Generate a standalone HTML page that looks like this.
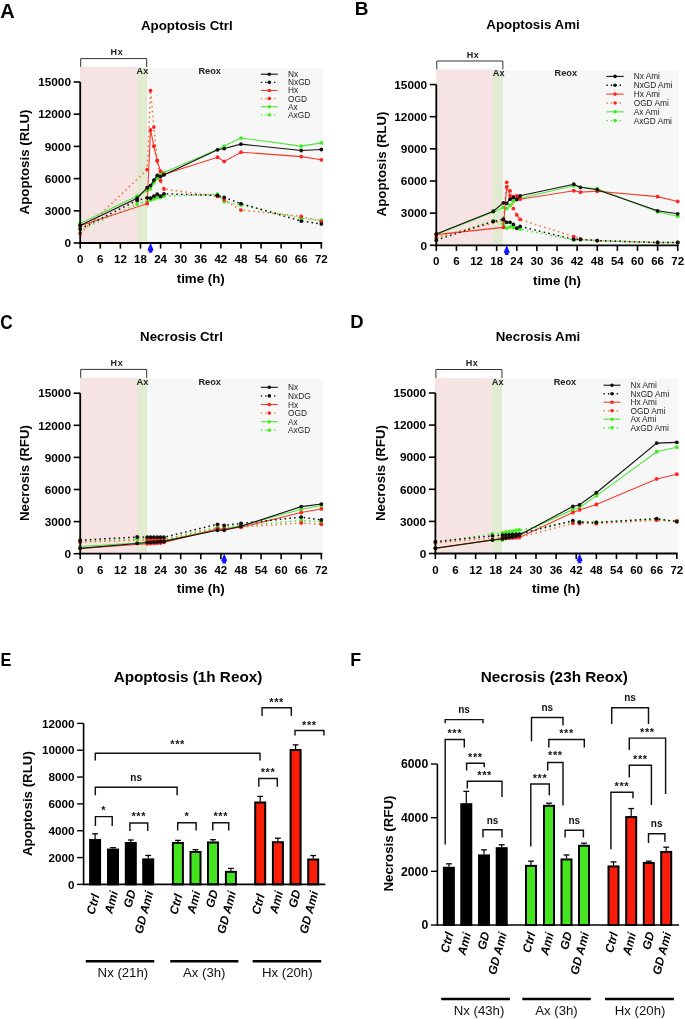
<!DOCTYPE html>
<html><head><meta charset="utf-8"><style>
html,body{margin:0;padding:0;background:#fff;}
svg{display:block;will-change:transform;font-family:"Liberation Sans", sans-serif;}
</style></head><body>
<svg width="685" height="1019" viewBox="0 0 685 1019">
<rect x="0" y="0" width="685" height="1019" fill="#fff"/>
<rect x="80.00" y="66.90" width="57.00" height="176.10" fill="#f6e3e4" />
<rect x="137.00" y="67.50" width="10.00" height="175.50" fill="#e3ead2" />
<rect x="147.00" y="67.90" width="176.00" height="175.10" fill="#f7f7f7" />
<path d="M80.70 66.90 V58.60 H146.68 V66.90" fill="none" stroke="#333" stroke-width="1"/>
<text x="116.90" y="55.30" font-size="9" font-weight="bold" text-anchor="middle" fill="#222" letter-spacing="0.6">Hx</text>
<text x="142.46" y="73.70" font-size="9.2" font-weight="bold" text-anchor="middle" fill="#222" >Ax</text>
<text x="209.70" y="73.70" font-size="9.2" font-weight="bold" text-anchor="middle" fill="#222" >Reox</text>
<path d="M80.20 230.12 L137.13 204.04 L147.18 201.78 L150.53 200.07 L153.88 198.99 L157.23 197.38 L160.58 197.38 L163.93 196.31 L217.51 194.06 L224.21 201.68 L240.95 205.00 L301.23 218.31 L321.33 220.14" fill="none" stroke="#4ee63a" stroke-width="1.5" stroke-dasharray="1.6 3.2"/>
<circle cx="80.20" cy="230.12" r="1.9" fill="#3cf01a"/>
<circle cx="137.13" cy="204.04" r="1.9" fill="#3cf01a"/>
<circle cx="147.18" cy="201.78" r="1.9" fill="#3cf01a"/>
<circle cx="150.53" cy="200.07" r="1.9" fill="#3cf01a"/>
<circle cx="153.88" cy="198.99" r="1.9" fill="#3cf01a"/>
<circle cx="157.23" cy="197.38" r="1.9" fill="#3cf01a"/>
<circle cx="160.58" cy="197.38" r="1.9" fill="#3cf01a"/>
<circle cx="163.93" cy="196.31" r="1.9" fill="#3cf01a"/>
<circle cx="217.51" cy="194.06" r="1.9" fill="#3cf01a"/>
<circle cx="224.21" cy="201.68" r="1.9" fill="#3cf01a"/>
<circle cx="240.95" cy="205.00" r="1.9" fill="#3cf01a"/>
<circle cx="301.23" cy="218.31" r="1.9" fill="#3cf01a"/>
<circle cx="321.33" cy="220.14" r="1.9" fill="#3cf01a"/>
<path d="M80.20 223.40 L137.13 195.99 L147.18 190.41 L150.53 188.80 L153.88 182.89 L157.23 178.49 L160.58 174.20 L163.93 172.59 L217.51 149.62 L224.21 146.08 L240.95 138.03 L301.23 146.08 L321.33 142.86" fill="none" stroke="#4ee63a" stroke-width="1.1"/>
<circle cx="80.20" cy="223.40" r="1.9" fill="#3cf01a"/>
<circle cx="137.13" cy="195.99" r="1.9" fill="#3cf01a"/>
<circle cx="147.18" cy="190.41" r="1.9" fill="#3cf01a"/>
<circle cx="150.53" cy="188.80" r="1.9" fill="#3cf01a"/>
<circle cx="153.88" cy="182.89" r="1.9" fill="#3cf01a"/>
<circle cx="157.23" cy="178.49" r="1.9" fill="#3cf01a"/>
<circle cx="160.58" cy="174.20" r="1.9" fill="#3cf01a"/>
<circle cx="163.93" cy="172.59" r="1.9" fill="#3cf01a"/>
<circle cx="217.51" cy="149.62" r="1.9" fill="#3cf01a"/>
<circle cx="224.21" cy="146.08" r="1.9" fill="#3cf01a"/>
<circle cx="240.95" cy="138.03" r="1.9" fill="#3cf01a"/>
<circle cx="301.23" cy="146.08" r="1.9" fill="#3cf01a"/>
<circle cx="321.33" cy="142.86" r="1.9" fill="#3cf01a"/>
<path d="M80.20 233.50 L147.18 169.58 L150.53 90.59 L153.88 127.08 L157.23 160.35 L160.58 180.75 L163.93 189.01 L217.51 196.42 L224.21 199.85 L240.95 210.10 L301.23 216.38 L321.33 221.53" fill="none" stroke="#f07830" stroke-width="1.5" stroke-dasharray="1.6 3.2"/>
<circle cx="80.20" cy="233.50" r="1.9" fill="#ff2222"/>
<circle cx="147.18" cy="169.58" r="1.9" fill="#ff2222"/>
<circle cx="150.53" cy="90.59" r="1.9" fill="#ff2222"/>
<circle cx="153.88" cy="127.08" r="1.9" fill="#ff2222"/>
<circle cx="157.23" cy="160.35" r="1.9" fill="#ff2222"/>
<circle cx="160.58" cy="180.75" r="1.9" fill="#ff2222"/>
<circle cx="163.93" cy="189.01" r="1.9" fill="#ff2222"/>
<circle cx="217.51" cy="196.42" r="1.9" fill="#ff2222"/>
<circle cx="224.21" cy="199.85" r="1.9" fill="#ff2222"/>
<circle cx="240.95" cy="210.10" r="1.9" fill="#ff2222"/>
<circle cx="301.23" cy="216.38" r="1.9" fill="#ff2222"/>
<circle cx="321.33" cy="221.53" r="1.9" fill="#ff2222"/>
<path d="M80.20 225.83 L147.18 203.72 L150.53 129.98 L153.88 146.19 L157.23 161.10 L160.58 171.19 L163.93 174.31 L217.51 157.24 L224.21 161.43 L240.95 152.20 L301.23 156.60 L321.33 159.82" fill="none" stroke="#f43a2a" stroke-width="1.1"/>
<circle cx="80.20" cy="225.83" r="1.9" fill="#ff2222"/>
<circle cx="147.18" cy="203.72" r="1.9" fill="#ff2222"/>
<circle cx="150.53" cy="129.98" r="1.9" fill="#ff2222"/>
<circle cx="153.88" cy="146.19" r="1.9" fill="#ff2222"/>
<circle cx="157.23" cy="161.10" r="1.9" fill="#ff2222"/>
<circle cx="160.58" cy="171.19" r="1.9" fill="#ff2222"/>
<circle cx="163.93" cy="174.31" r="1.9" fill="#ff2222"/>
<circle cx="217.51" cy="157.24" r="1.9" fill="#ff2222"/>
<circle cx="224.21" cy="161.43" r="1.9" fill="#ff2222"/>
<circle cx="240.95" cy="152.20" r="1.9" fill="#ff2222"/>
<circle cx="301.23" cy="156.60" r="1.9" fill="#ff2222"/>
<circle cx="321.33" cy="159.82" r="1.9" fill="#ff2222"/>
<path d="M80.20 228.83 L137.13 200.39 L147.18 197.81 L150.53 198.24 L153.88 196.20 L157.23 194.16 L160.58 196.20 L163.93 193.84 L217.51 195.45 L224.21 197.38 L240.95 203.61 L301.23 221.10 L321.33 223.89" fill="none" stroke="#111" stroke-width="1.5" stroke-dasharray="1.6 3.2"/>
<circle cx="80.20" cy="228.83" r="1.9" fill="#111"/>
<circle cx="137.13" cy="200.39" r="1.9" fill="#111"/>
<circle cx="147.18" cy="197.81" r="1.9" fill="#111"/>
<circle cx="150.53" cy="198.24" r="1.9" fill="#111"/>
<circle cx="153.88" cy="196.20" r="1.9" fill="#111"/>
<circle cx="157.23" cy="194.16" r="1.9" fill="#111"/>
<circle cx="160.58" cy="196.20" r="1.9" fill="#111"/>
<circle cx="163.93" cy="193.84" r="1.9" fill="#111"/>
<circle cx="217.51" cy="195.45" r="1.9" fill="#111"/>
<circle cx="224.21" cy="197.38" r="1.9" fill="#111"/>
<circle cx="240.95" cy="203.61" r="1.9" fill="#111"/>
<circle cx="301.23" cy="221.10" r="1.9" fill="#111"/>
<circle cx="321.33" cy="223.89" r="1.9" fill="#111"/>
<path d="M80.20 225.50 L137.13 198.24 L147.18 187.72 L150.53 185.58 L153.88 180.10 L157.23 175.38 L160.58 176.56 L163.93 174.95 L217.51 149.83 L224.21 148.55 L240.95 144.15 L301.23 150.48 L321.33 149.51" fill="none" stroke="#111" stroke-width="1.1"/>
<circle cx="80.20" cy="225.50" r="1.9" fill="#111"/>
<circle cx="137.13" cy="198.24" r="1.9" fill="#111"/>
<circle cx="147.18" cy="187.72" r="1.9" fill="#111"/>
<circle cx="150.53" cy="185.58" r="1.9" fill="#111"/>
<circle cx="153.88" cy="180.10" r="1.9" fill="#111"/>
<circle cx="157.23" cy="175.38" r="1.9" fill="#111"/>
<circle cx="160.58" cy="176.56" r="1.9" fill="#111"/>
<circle cx="163.93" cy="174.95" r="1.9" fill="#111"/>
<circle cx="217.51" cy="149.83" r="1.9" fill="#111"/>
<circle cx="224.21" cy="148.55" r="1.9" fill="#111"/>
<circle cx="240.95" cy="144.15" r="1.9" fill="#111"/>
<circle cx="301.23" cy="150.48" r="1.9" fill="#111"/>
<circle cx="321.33" cy="149.51" r="1.9" fill="#111"/>
<line x1="80.20" y1="82.00" x2="80.20" y2="243.90" stroke="#000" stroke-width="1.8" />
<line x1="79.30" y1="243.00" x2="322.23" y2="243.00" stroke="#000" stroke-width="1.8" />
<line x1="73.70" y1="243.00" x2="80.20" y2="243.00" stroke="#000" stroke-width="1.6" />
<text x="71.00" y="247.20" font-size="11.8" font-weight="bold" text-anchor="end" fill="#000" >0</text>
<line x1="73.70" y1="210.80" x2="80.20" y2="210.80" stroke="#000" stroke-width="1.6" />
<text x="71.00" y="215.00" font-size="11.8" font-weight="bold" text-anchor="end" fill="#000" >3000</text>
<line x1="73.70" y1="178.60" x2="80.20" y2="178.60" stroke="#000" stroke-width="1.6" />
<text x="71.00" y="182.80" font-size="11.8" font-weight="bold" text-anchor="end" fill="#000" >6000</text>
<line x1="73.70" y1="146.40" x2="80.20" y2="146.40" stroke="#000" stroke-width="1.6" />
<text x="71.00" y="150.60" font-size="11.8" font-weight="bold" text-anchor="end" fill="#000" >9000</text>
<line x1="73.70" y1="114.20" x2="80.20" y2="114.20" stroke="#000" stroke-width="1.6" />
<text x="71.00" y="118.40" font-size="11.8" font-weight="bold" text-anchor="end" fill="#000" >12000</text>
<line x1="73.70" y1="82.00" x2="80.20" y2="82.00" stroke="#000" stroke-width="1.6" />
<text x="71.00" y="86.20" font-size="11.8" font-weight="bold" text-anchor="end" fill="#000" >15000</text>
<line x1="80.20" y1="243.00" x2="80.20" y2="248.60" stroke="#000" stroke-width="1.6" />
<text x="80.20" y="263.10" font-size="11.5" font-weight="bold" text-anchor="middle" fill="#000" >0</text>
<line x1="100.29" y1="243.00" x2="100.29" y2="248.60" stroke="#000" stroke-width="1.6" />
<text x="100.29" y="263.10" font-size="11.5" font-weight="bold" text-anchor="middle" fill="#000" >6</text>
<line x1="120.39" y1="243.00" x2="120.39" y2="248.60" stroke="#000" stroke-width="1.6" />
<text x="120.39" y="263.10" font-size="11.5" font-weight="bold" text-anchor="middle" fill="#000" >12</text>
<line x1="140.48" y1="243.00" x2="140.48" y2="248.60" stroke="#000" stroke-width="1.6" />
<text x="140.48" y="263.10" font-size="11.5" font-weight="bold" text-anchor="middle" fill="#000" >18</text>
<line x1="160.58" y1="243.00" x2="160.58" y2="248.60" stroke="#000" stroke-width="1.6" />
<text x="160.58" y="263.10" font-size="11.5" font-weight="bold" text-anchor="middle" fill="#000" >24</text>
<line x1="180.67" y1="243.00" x2="180.67" y2="248.60" stroke="#000" stroke-width="1.6" />
<text x="180.67" y="263.10" font-size="11.5" font-weight="bold" text-anchor="middle" fill="#000" >30</text>
<line x1="200.76" y1="243.00" x2="200.76" y2="248.60" stroke="#000" stroke-width="1.6" />
<text x="200.76" y="263.10" font-size="11.5" font-weight="bold" text-anchor="middle" fill="#000" >36</text>
<line x1="220.86" y1="243.00" x2="220.86" y2="248.60" stroke="#000" stroke-width="1.6" />
<text x="220.86" y="263.10" font-size="11.5" font-weight="bold" text-anchor="middle" fill="#000" >42</text>
<line x1="240.95" y1="243.00" x2="240.95" y2="248.60" stroke="#000" stroke-width="1.6" />
<text x="240.95" y="263.10" font-size="11.5" font-weight="bold" text-anchor="middle" fill="#000" >48</text>
<line x1="261.05" y1="243.00" x2="261.05" y2="248.60" stroke="#000" stroke-width="1.6" />
<text x="261.05" y="263.10" font-size="11.5" font-weight="bold" text-anchor="middle" fill="#000" >54</text>
<line x1="281.14" y1="243.00" x2="281.14" y2="248.60" stroke="#000" stroke-width="1.6" />
<text x="281.14" y="263.10" font-size="11.5" font-weight="bold" text-anchor="middle" fill="#000" >60</text>
<line x1="301.23" y1="243.00" x2="301.23" y2="248.60" stroke="#000" stroke-width="1.6" />
<text x="301.23" y="263.10" font-size="11.5" font-weight="bold" text-anchor="middle" fill="#000" >66</text>
<line x1="321.33" y1="243.00" x2="321.33" y2="248.60" stroke="#000" stroke-width="1.6" />
<text x="321.33" y="263.10" font-size="11.5" font-weight="bold" text-anchor="middle" fill="#000" >72</text>
<path d="M150.53 242.80 L153.63 250.20 L152.33 250.80 L152.33 252.80 L148.73 252.80 L148.73 250.80 L147.43 250.20 Z" fill="#1414ff"/>
<text x="200.76" y="282.60" font-size="13.3" font-weight="bold" text-anchor="middle" fill="#000" >time (h)</text>
<text transform="translate(29.20,162.00) rotate(-90)" font-size="13.3" font-weight="bold" text-anchor="middle">Apoptosis (RLU)</text>
<text x="186.80" y="29.60" font-size="13.3" font-weight="bold" text-anchor="middle" fill="#000" >Apoptosis Ctrl</text>
<line x1="260.80" y1="74.20" x2="277.80" y2="74.20" stroke="#111" stroke-width="1.1" />
<circle cx="269.30" cy="74.20" r="1.8" fill="#111"/>
<text x="288.00" y="77.20" font-size="8.3" font-weight="normal" text-anchor="start" fill="#222" >Nx</text>
<path d="M260.80 82.34 H277.80" stroke="#111" stroke-width="1.4" stroke-dasharray="1.4 3" fill="none"/>
<circle cx="269.30" cy="82.34" r="1.8" fill="#111"/>
<text x="288.00" y="85.34" font-size="8.3" font-weight="normal" text-anchor="start" fill="#222" >NxGD</text>
<line x1="260.80" y1="90.48" x2="277.80" y2="90.48" stroke="#f43a2a" stroke-width="1.1" />
<circle cx="269.30" cy="90.48" r="1.8" fill="#ff2222"/>
<text x="288.00" y="93.48" font-size="8.3" font-weight="normal" text-anchor="start" fill="#222" >Hx</text>
<path d="M260.80 98.62 H277.80" stroke="#f07830" stroke-width="1.4" stroke-dasharray="1.4 3" fill="none"/>
<circle cx="269.30" cy="98.62" r="1.8" fill="#ff2222"/>
<text x="288.00" y="101.62" font-size="8.3" font-weight="normal" text-anchor="start" fill="#222" >OGD</text>
<line x1="260.80" y1="106.76" x2="277.80" y2="106.76" stroke="#4ee63a" stroke-width="1.1" />
<circle cx="269.30" cy="106.76" r="1.8" fill="#3cf01a"/>
<text x="288.00" y="109.76" font-size="8.3" font-weight="normal" text-anchor="start" fill="#222" >Ax</text>
<path d="M260.80 114.90 H277.80" stroke="#4ee63a" stroke-width="1.4" stroke-dasharray="1.4 3" fill="none"/>
<circle cx="269.30" cy="114.90" r="1.8" fill="#3cf01a"/>
<text x="288.00" y="117.90" font-size="8.3" font-weight="normal" text-anchor="start" fill="#222" >AxGD</text>
<text transform="translate(0.20,18.00) scale(1,1)" font-size="20" font-weight="bold">A</text>
<rect x="436.00" y="69.40" width="57.00" height="175.90" fill="#f6e3e4" />
<rect x="493.00" y="70.00" width="10.00" height="175.30" fill="#e3ead2" />
<rect x="503.00" y="70.40" width="176.00" height="174.90" fill="#f7f7f7" />
<path d="M436.80 69.40 V61.00 H502.86 V69.40" fill="none" stroke="#333" stroke-width="1"/>
<text x="473.00" y="57.70" font-size="9" font-weight="bold" text-anchor="middle" fill="#222" letter-spacing="0.6">Hx</text>
<text x="498.63" y="76.20" font-size="9.2" font-weight="bold" text-anchor="middle" fill="#222" >Ax</text>
<text x="565.80" y="76.20" font-size="9.2" font-weight="bold" text-anchor="middle" fill="#222" >Reox</text>
<path d="M436.30 238.33 L493.30 220.87 L503.36 224.30 L506.71 228.05 L510.07 226.97 L513.42 227.62 L516.77 227.62 L520.12 229.12 L573.77 239.94 L580.48 239.73 L597.24 240.69 L657.60 242.62 L677.72 242.62" fill="none" stroke="#4ee63a" stroke-width="1.5" stroke-dasharray="1.6 3.2"/>
<circle cx="436.30" cy="238.33" r="1.9" fill="#3cf01a"/>
<circle cx="493.30" cy="220.87" r="1.9" fill="#3cf01a"/>
<circle cx="503.36" cy="224.30" r="1.9" fill="#3cf01a"/>
<circle cx="506.71" cy="228.05" r="1.9" fill="#3cf01a"/>
<circle cx="510.07" cy="226.97" r="1.9" fill="#3cf01a"/>
<circle cx="513.42" cy="227.62" r="1.9" fill="#3cf01a"/>
<circle cx="516.77" cy="227.62" r="1.9" fill="#3cf01a"/>
<circle cx="520.12" cy="229.12" r="1.9" fill="#3cf01a"/>
<circle cx="573.77" cy="239.94" r="1.9" fill="#3cf01a"/>
<circle cx="580.48" cy="239.73" r="1.9" fill="#3cf01a"/>
<circle cx="597.24" cy="240.69" r="1.9" fill="#3cf01a"/>
<circle cx="657.60" cy="242.62" r="1.9" fill="#3cf01a"/>
<circle cx="677.72" cy="242.62" r="1.9" fill="#3cf01a"/>
<path d="M436.30 234.58 L493.30 212.08 L503.36 207.47 L506.71 208.54 L510.07 205.43 L513.42 201.36 L516.77 199.75 L520.12 198.15 L573.77 185.82 L580.48 187.32 L597.24 188.72 L657.60 211.76 L677.72 216.26" fill="none" stroke="#4ee63a" stroke-width="1.1"/>
<circle cx="436.30" cy="234.58" r="1.9" fill="#3cf01a"/>
<circle cx="493.30" cy="212.08" r="1.9" fill="#3cf01a"/>
<circle cx="503.36" cy="207.47" r="1.9" fill="#3cf01a"/>
<circle cx="506.71" cy="208.54" r="1.9" fill="#3cf01a"/>
<circle cx="510.07" cy="205.43" r="1.9" fill="#3cf01a"/>
<circle cx="513.42" cy="201.36" r="1.9" fill="#3cf01a"/>
<circle cx="516.77" cy="199.75" r="1.9" fill="#3cf01a"/>
<circle cx="520.12" cy="198.15" r="1.9" fill="#3cf01a"/>
<circle cx="573.77" cy="185.82" r="1.9" fill="#3cf01a"/>
<circle cx="580.48" cy="187.32" r="1.9" fill="#3cf01a"/>
<circle cx="597.24" cy="188.72" r="1.9" fill="#3cf01a"/>
<circle cx="657.60" cy="211.76" r="1.9" fill="#3cf01a"/>
<circle cx="677.72" cy="216.26" r="1.9" fill="#3cf01a"/>
<path d="M436.30 237.26 L503.36 220.65 L506.71 182.29 L510.07 190.97 L513.42 208.54 L516.77 214.97 L520.12 219.47 L573.77 236.62 L580.48 238.98 L597.24 240.58 L657.60 242.51 L677.72 242.51" fill="none" stroke="#f07830" stroke-width="1.5" stroke-dasharray="1.6 3.2"/>
<circle cx="436.30" cy="237.26" r="1.9" fill="#ff2222"/>
<circle cx="503.36" cy="220.65" r="1.9" fill="#ff2222"/>
<circle cx="506.71" cy="182.29" r="1.9" fill="#ff2222"/>
<circle cx="510.07" cy="190.97" r="1.9" fill="#ff2222"/>
<circle cx="513.42" cy="208.54" r="1.9" fill="#ff2222"/>
<circle cx="516.77" cy="214.97" r="1.9" fill="#ff2222"/>
<circle cx="520.12" cy="219.47" r="1.9" fill="#ff2222"/>
<circle cx="573.77" cy="236.62" r="1.9" fill="#ff2222"/>
<circle cx="580.48" cy="238.98" r="1.9" fill="#ff2222"/>
<circle cx="597.24" cy="240.58" r="1.9" fill="#ff2222"/>
<circle cx="657.60" cy="242.51" r="1.9" fill="#ff2222"/>
<circle cx="677.72" cy="242.51" r="1.9" fill="#ff2222"/>
<path d="M436.30 234.58 L503.36 227.40 L506.71 186.79 L510.07 195.79 L513.42 196.54 L516.77 196.00 L520.12 199.22 L573.77 190.75 L580.48 192.15 L597.24 191.29 L657.60 196.65 L677.72 201.47" fill="none" stroke="#f43a2a" stroke-width="1.1"/>
<circle cx="436.30" cy="234.58" r="1.9" fill="#ff2222"/>
<circle cx="503.36" cy="227.40" r="1.9" fill="#ff2222"/>
<circle cx="506.71" cy="186.79" r="1.9" fill="#ff2222"/>
<circle cx="510.07" cy="195.79" r="1.9" fill="#ff2222"/>
<circle cx="513.42" cy="196.54" r="1.9" fill="#ff2222"/>
<circle cx="516.77" cy="196.00" r="1.9" fill="#ff2222"/>
<circle cx="520.12" cy="199.22" r="1.9" fill="#ff2222"/>
<circle cx="573.77" cy="190.75" r="1.9" fill="#ff2222"/>
<circle cx="580.48" cy="192.15" r="1.9" fill="#ff2222"/>
<circle cx="597.24" cy="191.29" r="1.9" fill="#ff2222"/>
<circle cx="657.60" cy="196.65" r="1.9" fill="#ff2222"/>
<circle cx="677.72" cy="201.47" r="1.9" fill="#ff2222"/>
<path d="M436.30 240.16 L493.30 221.40 L503.36 219.26 L506.71 222.37 L510.07 222.37 L513.42 224.40 L516.77 228.26 L520.12 226.44 L573.77 239.41 L580.48 239.41 L597.24 240.58 L657.60 242.51 L677.72 242.51" fill="none" stroke="#111" stroke-width="1.5" stroke-dasharray="1.6 3.2"/>
<circle cx="436.30" cy="240.16" r="1.9" fill="#111"/>
<circle cx="493.30" cy="221.40" r="1.9" fill="#111"/>
<circle cx="503.36" cy="219.26" r="1.9" fill="#111"/>
<circle cx="506.71" cy="222.37" r="1.9" fill="#111"/>
<circle cx="510.07" cy="222.37" r="1.9" fill="#111"/>
<circle cx="513.42" cy="224.40" r="1.9" fill="#111"/>
<circle cx="516.77" cy="228.26" r="1.9" fill="#111"/>
<circle cx="520.12" cy="226.44" r="1.9" fill="#111"/>
<circle cx="573.77" cy="239.41" r="1.9" fill="#111"/>
<circle cx="580.48" cy="239.41" r="1.9" fill="#111"/>
<circle cx="597.24" cy="240.58" r="1.9" fill="#111"/>
<circle cx="657.60" cy="242.51" r="1.9" fill="#111"/>
<circle cx="677.72" cy="242.51" r="1.9" fill="#111"/>
<path d="M436.30 233.94 L493.30 211.22 L503.36 202.86 L506.71 203.29 L510.07 199.22 L513.42 197.50 L516.77 199.43 L520.12 195.79 L573.77 184.22 L580.48 187.32 L597.24 189.68 L657.60 210.79 L677.72 213.79" fill="none" stroke="#111" stroke-width="1.1"/>
<circle cx="436.30" cy="233.94" r="1.9" fill="#111"/>
<circle cx="493.30" cy="211.22" r="1.9" fill="#111"/>
<circle cx="503.36" cy="202.86" r="1.9" fill="#111"/>
<circle cx="506.71" cy="203.29" r="1.9" fill="#111"/>
<circle cx="510.07" cy="199.22" r="1.9" fill="#111"/>
<circle cx="513.42" cy="197.50" r="1.9" fill="#111"/>
<circle cx="516.77" cy="199.43" r="1.9" fill="#111"/>
<circle cx="520.12" cy="195.79" r="1.9" fill="#111"/>
<circle cx="573.77" cy="184.22" r="1.9" fill="#111"/>
<circle cx="580.48" cy="187.32" r="1.9" fill="#111"/>
<circle cx="597.24" cy="189.68" r="1.9" fill="#111"/>
<circle cx="657.60" cy="210.79" r="1.9" fill="#111"/>
<circle cx="677.72" cy="213.79" r="1.9" fill="#111"/>
<line x1="436.30" y1="84.55" x2="436.30" y2="246.20" stroke="#000" stroke-width="1.8" />
<line x1="435.40" y1="245.30" x2="678.62" y2="245.30" stroke="#000" stroke-width="1.8" />
<line x1="429.80" y1="245.30" x2="436.30" y2="245.30" stroke="#000" stroke-width="1.6" />
<text x="427.10" y="249.50" font-size="11.8" font-weight="bold" text-anchor="end" fill="#000" >0</text>
<line x1="429.80" y1="213.15" x2="436.30" y2="213.15" stroke="#000" stroke-width="1.6" />
<text x="427.10" y="217.35" font-size="11.8" font-weight="bold" text-anchor="end" fill="#000" >3000</text>
<line x1="429.80" y1="181.00" x2="436.30" y2="181.00" stroke="#000" stroke-width="1.6" />
<text x="427.10" y="185.20" font-size="11.8" font-weight="bold" text-anchor="end" fill="#000" >6000</text>
<line x1="429.80" y1="148.85" x2="436.30" y2="148.85" stroke="#000" stroke-width="1.6" />
<text x="427.10" y="153.05" font-size="11.8" font-weight="bold" text-anchor="end" fill="#000" >9000</text>
<line x1="429.80" y1="116.70" x2="436.30" y2="116.70" stroke="#000" stroke-width="1.6" />
<text x="427.10" y="120.90" font-size="11.8" font-weight="bold" text-anchor="end" fill="#000" >12000</text>
<line x1="429.80" y1="84.55" x2="436.30" y2="84.55" stroke="#000" stroke-width="1.6" />
<text x="427.10" y="88.75" font-size="11.8" font-weight="bold" text-anchor="end" fill="#000" >15000</text>
<line x1="436.30" y1="245.30" x2="436.30" y2="250.90" stroke="#000" stroke-width="1.6" />
<text x="436.30" y="265.40" font-size="11.5" font-weight="bold" text-anchor="middle" fill="#000" >0</text>
<line x1="456.42" y1="245.30" x2="456.42" y2="250.90" stroke="#000" stroke-width="1.6" />
<text x="456.42" y="265.40" font-size="11.5" font-weight="bold" text-anchor="middle" fill="#000" >6</text>
<line x1="476.54" y1="245.30" x2="476.54" y2="250.90" stroke="#000" stroke-width="1.6" />
<text x="476.54" y="265.40" font-size="11.5" font-weight="bold" text-anchor="middle" fill="#000" >12</text>
<line x1="496.65" y1="245.30" x2="496.65" y2="250.90" stroke="#000" stroke-width="1.6" />
<text x="496.65" y="265.40" font-size="11.5" font-weight="bold" text-anchor="middle" fill="#000" >18</text>
<line x1="516.77" y1="245.30" x2="516.77" y2="250.90" stroke="#000" stroke-width="1.6" />
<text x="516.77" y="265.40" font-size="11.5" font-weight="bold" text-anchor="middle" fill="#000" >24</text>
<line x1="536.89" y1="245.30" x2="536.89" y2="250.90" stroke="#000" stroke-width="1.6" />
<text x="536.89" y="265.40" font-size="11.5" font-weight="bold" text-anchor="middle" fill="#000" >30</text>
<line x1="557.01" y1="245.30" x2="557.01" y2="250.90" stroke="#000" stroke-width="1.6" />
<text x="557.01" y="265.40" font-size="11.5" font-weight="bold" text-anchor="middle" fill="#000" >36</text>
<line x1="577.13" y1="245.30" x2="577.13" y2="250.90" stroke="#000" stroke-width="1.6" />
<text x="577.13" y="265.40" font-size="11.5" font-weight="bold" text-anchor="middle" fill="#000" >42</text>
<line x1="597.24" y1="245.30" x2="597.24" y2="250.90" stroke="#000" stroke-width="1.6" />
<text x="597.24" y="265.40" font-size="11.5" font-weight="bold" text-anchor="middle" fill="#000" >48</text>
<line x1="617.36" y1="245.30" x2="617.36" y2="250.90" stroke="#000" stroke-width="1.6" />
<text x="617.36" y="265.40" font-size="11.5" font-weight="bold" text-anchor="middle" fill="#000" >54</text>
<line x1="637.48" y1="245.30" x2="637.48" y2="250.90" stroke="#000" stroke-width="1.6" />
<text x="637.48" y="265.40" font-size="11.5" font-weight="bold" text-anchor="middle" fill="#000" >60</text>
<line x1="657.60" y1="245.30" x2="657.60" y2="250.90" stroke="#000" stroke-width="1.6" />
<text x="657.60" y="265.40" font-size="11.5" font-weight="bold" text-anchor="middle" fill="#000" >66</text>
<line x1="677.72" y1="245.30" x2="677.72" y2="250.90" stroke="#000" stroke-width="1.6" />
<text x="677.72" y="265.40" font-size="11.5" font-weight="bold" text-anchor="middle" fill="#000" >72</text>
<path d="M506.71 245.10 L509.81 252.50 L508.51 253.10 L508.51 255.10 L504.91 255.10 L504.91 253.10 L503.61 252.50 Z" fill="#1414ff"/>
<text x="557.01" y="284.90" font-size="13.3" font-weight="bold" text-anchor="middle" fill="#000" >time (h)</text>
<text transform="translate(385.60,164.00) rotate(-90)" font-size="13.3" font-weight="bold" text-anchor="middle">Apoptosis (RLU)</text>
<text x="533.00" y="29.30" font-size="13.3" font-weight="bold" text-anchor="middle" fill="#000" >Apoptosis Ami</text>
<line x1="606.40" y1="76.40" x2="623.70" y2="76.40" stroke="#111" stroke-width="1.1" />
<circle cx="615.05" cy="76.40" r="1.8" fill="#111"/>
<text x="633.70" y="79.40" font-size="8.3" font-weight="normal" text-anchor="start" fill="#222" >Nx Ami</text>
<path d="M606.40 85.25 H623.70" stroke="#111" stroke-width="1.4" stroke-dasharray="1.4 3" fill="none"/>
<circle cx="615.05" cy="85.25" r="1.8" fill="#111"/>
<text x="633.70" y="88.25" font-size="8.3" font-weight="normal" text-anchor="start" fill="#222" >NxGD Ami</text>
<line x1="606.40" y1="94.10" x2="623.70" y2="94.10" stroke="#f43a2a" stroke-width="1.1" />
<circle cx="615.05" cy="94.10" r="1.8" fill="#ff2222"/>
<text x="633.70" y="97.10" font-size="8.3" font-weight="normal" text-anchor="start" fill="#222" >Hx Ami</text>
<path d="M606.40 102.95 H623.70" stroke="#f07830" stroke-width="1.4" stroke-dasharray="1.4 3" fill="none"/>
<circle cx="615.05" cy="102.95" r="1.8" fill="#ff2222"/>
<text x="633.70" y="105.95" font-size="8.3" font-weight="normal" text-anchor="start" fill="#222" >OGD Ami</text>
<line x1="606.40" y1="111.80" x2="623.70" y2="111.80" stroke="#4ee63a" stroke-width="1.1" />
<circle cx="615.05" cy="111.80" r="1.8" fill="#3cf01a"/>
<text x="633.70" y="114.80" font-size="8.3" font-weight="normal" text-anchor="start" fill="#222" >Ax Ami</text>
<path d="M606.40 120.65 H623.70" stroke="#4ee63a" stroke-width="1.4" stroke-dasharray="1.4 3" fill="none"/>
<circle cx="615.05" cy="120.65" r="1.8" fill="#3cf01a"/>
<text x="633.70" y="123.65" font-size="8.3" font-weight="normal" text-anchor="start" fill="#222" >AxGD Ami</text>
<text transform="translate(354.80,14.60) scale(1,1)" font-size="19" font-weight="bold">B</text>
<rect x="80.00" y="377.90" width="57.00" height="175.80" fill="#f6e3e4" />
<rect x="137.00" y="378.50" width="10.00" height="175.20" fill="#e3ead2" />
<rect x="147.00" y="378.90" width="176.00" height="174.80" fill="#f7f7f7" />
<path d="M80.70 377.90 V369.40 H146.68 V377.90" fill="none" stroke="#333" stroke-width="1"/>
<text x="116.90" y="366.10" font-size="9" font-weight="bold" text-anchor="middle" fill="#222" letter-spacing="0.6">Hx</text>
<text x="142.46" y="384.70" font-size="9.2" font-weight="bold" text-anchor="middle" fill="#222" >Ax</text>
<text x="209.70" y="384.70" font-size="9.2" font-weight="bold" text-anchor="middle" fill="#222" >Reox</text>
<path d="M80.20 541.40 L137.13 539.15 L147.18 539.15 L150.53 539.15 L153.88 539.15 L157.23 539.15 L160.58 539.15 L163.93 539.15 L217.51 527.27 L224.21 526.95 L240.95 525.88 L301.23 520.42 L321.33 522.03" fill="none" stroke="#4ee63a" stroke-width="1.5" stroke-dasharray="1.6 3.2"/>
<circle cx="80.20" cy="541.40" r="1.9" fill="#3cf01a"/>
<circle cx="137.13" cy="539.15" r="1.9" fill="#3cf01a"/>
<circle cx="147.18" cy="539.15" r="1.9" fill="#3cf01a"/>
<circle cx="150.53" cy="539.15" r="1.9" fill="#3cf01a"/>
<circle cx="153.88" cy="539.15" r="1.9" fill="#3cf01a"/>
<circle cx="157.23" cy="539.15" r="1.9" fill="#3cf01a"/>
<circle cx="160.58" cy="539.15" r="1.9" fill="#3cf01a"/>
<circle cx="163.93" cy="539.15" r="1.9" fill="#3cf01a"/>
<circle cx="217.51" cy="527.27" r="1.9" fill="#3cf01a"/>
<circle cx="224.21" cy="526.95" r="1.9" fill="#3cf01a"/>
<circle cx="240.95" cy="525.88" r="1.9" fill="#3cf01a"/>
<circle cx="301.23" cy="520.42" r="1.9" fill="#3cf01a"/>
<circle cx="321.33" cy="522.03" r="1.9" fill="#3cf01a"/>
<path d="M80.20 546.53 L137.13 543.00 L147.18 541.93 L150.53 541.72 L153.88 541.50 L157.23 541.29 L160.58 541.07 L163.93 540.86 L217.51 529.30 L224.21 529.09 L240.95 525.88 L301.23 509.19 L321.33 505.55" fill="none" stroke="#4ee63a" stroke-width="1.1"/>
<circle cx="80.20" cy="546.53" r="1.9" fill="#3cf01a"/>
<circle cx="137.13" cy="543.00" r="1.9" fill="#3cf01a"/>
<circle cx="147.18" cy="541.93" r="1.9" fill="#3cf01a"/>
<circle cx="150.53" cy="541.72" r="1.9" fill="#3cf01a"/>
<circle cx="153.88" cy="541.50" r="1.9" fill="#3cf01a"/>
<circle cx="157.23" cy="541.29" r="1.9" fill="#3cf01a"/>
<circle cx="160.58" cy="541.07" r="1.9" fill="#3cf01a"/>
<circle cx="163.93" cy="540.86" r="1.9" fill="#3cf01a"/>
<circle cx="217.51" cy="529.30" r="1.9" fill="#3cf01a"/>
<circle cx="224.21" cy="529.09" r="1.9" fill="#3cf01a"/>
<circle cx="240.95" cy="525.88" r="1.9" fill="#3cf01a"/>
<circle cx="301.23" cy="509.19" r="1.9" fill="#3cf01a"/>
<circle cx="321.33" cy="505.55" r="1.9" fill="#3cf01a"/>
<path d="M80.20 542.14 L147.18 539.79 L150.53 539.79 L153.88 539.79 L157.23 539.79 L160.58 539.79 L163.93 539.79 L217.51 528.34 L224.21 528.56 L240.95 526.95 L301.23 522.99 L321.33 524.28" fill="none" stroke="#f07830" stroke-width="1.5" stroke-dasharray="1.6 3.2"/>
<circle cx="80.20" cy="542.14" r="1.9" fill="#ff2222"/>
<circle cx="147.18" cy="539.79" r="1.9" fill="#ff2222"/>
<circle cx="150.53" cy="539.79" r="1.9" fill="#ff2222"/>
<circle cx="153.88" cy="539.79" r="1.9" fill="#ff2222"/>
<circle cx="157.23" cy="539.79" r="1.9" fill="#ff2222"/>
<circle cx="160.58" cy="539.79" r="1.9" fill="#ff2222"/>
<circle cx="163.93" cy="539.79" r="1.9" fill="#ff2222"/>
<circle cx="217.51" cy="528.34" r="1.9" fill="#ff2222"/>
<circle cx="224.21" cy="528.56" r="1.9" fill="#ff2222"/>
<circle cx="240.95" cy="526.95" r="1.9" fill="#ff2222"/>
<circle cx="301.23" cy="522.99" r="1.9" fill="#ff2222"/>
<circle cx="321.33" cy="524.28" r="1.9" fill="#ff2222"/>
<path d="M80.20 548.56 L147.18 543.75 L150.53 543.54 L153.88 543.43 L157.23 543.21 L160.58 543.00 L163.93 542.47 L217.51 528.98 L224.21 529.09 L240.95 527.27 L301.23 512.50 L321.33 508.97" fill="none" stroke="#f43a2a" stroke-width="1.1"/>
<circle cx="80.20" cy="548.56" r="1.9" fill="#ff2222"/>
<circle cx="147.18" cy="543.75" r="1.9" fill="#ff2222"/>
<circle cx="150.53" cy="543.54" r="1.9" fill="#ff2222"/>
<circle cx="153.88" cy="543.43" r="1.9" fill="#ff2222"/>
<circle cx="157.23" cy="543.21" r="1.9" fill="#ff2222"/>
<circle cx="160.58" cy="543.00" r="1.9" fill="#ff2222"/>
<circle cx="163.93" cy="542.47" r="1.9" fill="#ff2222"/>
<circle cx="217.51" cy="528.98" r="1.9" fill="#ff2222"/>
<circle cx="224.21" cy="529.09" r="1.9" fill="#ff2222"/>
<circle cx="240.95" cy="527.27" r="1.9" fill="#ff2222"/>
<circle cx="301.23" cy="512.50" r="1.9" fill="#ff2222"/>
<circle cx="321.33" cy="508.97" r="1.9" fill="#ff2222"/>
<path d="M80.20 540.22 L137.13 537.01 L147.18 537.22 L150.53 537.22 L153.88 537.22 L157.23 537.22 L160.58 537.22 L163.93 537.22 L217.51 524.28 L224.21 525.35 L240.95 523.42 L301.23 517.11 L321.33 520.00" fill="none" stroke="#111" stroke-width="1.5" stroke-dasharray="1.6 3.2"/>
<circle cx="80.20" cy="540.22" r="1.9" fill="#111"/>
<circle cx="137.13" cy="537.01" r="1.9" fill="#111"/>
<circle cx="147.18" cy="537.22" r="1.9" fill="#111"/>
<circle cx="150.53" cy="537.22" r="1.9" fill="#111"/>
<circle cx="153.88" cy="537.22" r="1.9" fill="#111"/>
<circle cx="157.23" cy="537.22" r="1.9" fill="#111"/>
<circle cx="160.58" cy="537.22" r="1.9" fill="#111"/>
<circle cx="163.93" cy="537.22" r="1.9" fill="#111"/>
<circle cx="217.51" cy="524.28" r="1.9" fill="#111"/>
<circle cx="224.21" cy="525.35" r="1.9" fill="#111"/>
<circle cx="240.95" cy="523.42" r="1.9" fill="#111"/>
<circle cx="301.23" cy="517.11" r="1.9" fill="#111"/>
<circle cx="321.33" cy="520.00" r="1.9" fill="#111"/>
<path d="M80.20 548.35 L137.13 543.43 L147.18 542.47 L150.53 542.36 L153.88 542.14 L157.23 541.93 L160.58 541.72 L163.93 541.40 L217.51 530.27 L224.21 530.27 L240.95 526.31 L301.23 506.62 L321.33 504.05" fill="none" stroke="#111" stroke-width="1.1"/>
<circle cx="80.20" cy="548.35" r="1.9" fill="#111"/>
<circle cx="137.13" cy="543.43" r="1.9" fill="#111"/>
<circle cx="147.18" cy="542.47" r="1.9" fill="#111"/>
<circle cx="150.53" cy="542.36" r="1.9" fill="#111"/>
<circle cx="153.88" cy="542.14" r="1.9" fill="#111"/>
<circle cx="157.23" cy="541.93" r="1.9" fill="#111"/>
<circle cx="160.58" cy="541.72" r="1.9" fill="#111"/>
<circle cx="163.93" cy="541.40" r="1.9" fill="#111"/>
<circle cx="217.51" cy="530.27" r="1.9" fill="#111"/>
<circle cx="224.21" cy="530.27" r="1.9" fill="#111"/>
<circle cx="240.95" cy="526.31" r="1.9" fill="#111"/>
<circle cx="301.23" cy="506.62" r="1.9" fill="#111"/>
<circle cx="321.33" cy="504.05" r="1.9" fill="#111"/>
<line x1="80.20" y1="393.20" x2="80.20" y2="554.60" stroke="#000" stroke-width="1.8" />
<line x1="79.30" y1="553.70" x2="322.23" y2="553.70" stroke="#000" stroke-width="1.8" />
<line x1="73.70" y1="553.70" x2="80.20" y2="553.70" stroke="#000" stroke-width="1.6" />
<text x="71.00" y="557.90" font-size="11.8" font-weight="bold" text-anchor="end" fill="#000" >0</text>
<line x1="73.70" y1="521.60" x2="80.20" y2="521.60" stroke="#000" stroke-width="1.6" />
<text x="71.00" y="525.80" font-size="11.8" font-weight="bold" text-anchor="end" fill="#000" >3000</text>
<line x1="73.70" y1="489.50" x2="80.20" y2="489.50" stroke="#000" stroke-width="1.6" />
<text x="71.00" y="493.70" font-size="11.8" font-weight="bold" text-anchor="end" fill="#000" >6000</text>
<line x1="73.70" y1="457.40" x2="80.20" y2="457.40" stroke="#000" stroke-width="1.6" />
<text x="71.00" y="461.60" font-size="11.8" font-weight="bold" text-anchor="end" fill="#000" >9000</text>
<line x1="73.70" y1="425.30" x2="80.20" y2="425.30" stroke="#000" stroke-width="1.6" />
<text x="71.00" y="429.50" font-size="11.8" font-weight="bold" text-anchor="end" fill="#000" >12000</text>
<line x1="73.70" y1="393.20" x2="80.20" y2="393.20" stroke="#000" stroke-width="1.6" />
<text x="71.00" y="397.40" font-size="11.8" font-weight="bold" text-anchor="end" fill="#000" >15000</text>
<line x1="80.20" y1="553.70" x2="80.20" y2="559.30" stroke="#000" stroke-width="1.6" />
<text x="80.20" y="573.80" font-size="11.5" font-weight="bold" text-anchor="middle" fill="#000" >0</text>
<line x1="100.29" y1="553.70" x2="100.29" y2="559.30" stroke="#000" stroke-width="1.6" />
<text x="100.29" y="573.80" font-size="11.5" font-weight="bold" text-anchor="middle" fill="#000" >6</text>
<line x1="120.39" y1="553.70" x2="120.39" y2="559.30" stroke="#000" stroke-width="1.6" />
<text x="120.39" y="573.80" font-size="11.5" font-weight="bold" text-anchor="middle" fill="#000" >12</text>
<line x1="140.48" y1="553.70" x2="140.48" y2="559.30" stroke="#000" stroke-width="1.6" />
<text x="140.48" y="573.80" font-size="11.5" font-weight="bold" text-anchor="middle" fill="#000" >18</text>
<line x1="160.58" y1="553.70" x2="160.58" y2="559.30" stroke="#000" stroke-width="1.6" />
<text x="160.58" y="573.80" font-size="11.5" font-weight="bold" text-anchor="middle" fill="#000" >24</text>
<line x1="180.67" y1="553.70" x2="180.67" y2="559.30" stroke="#000" stroke-width="1.6" />
<text x="180.67" y="573.80" font-size="11.5" font-weight="bold" text-anchor="middle" fill="#000" >30</text>
<line x1="200.76" y1="553.70" x2="200.76" y2="559.30" stroke="#000" stroke-width="1.6" />
<text x="200.76" y="573.80" font-size="11.5" font-weight="bold" text-anchor="middle" fill="#000" >36</text>
<line x1="220.86" y1="553.70" x2="220.86" y2="559.30" stroke="#000" stroke-width="1.6" />
<text x="220.86" y="573.80" font-size="11.5" font-weight="bold" text-anchor="middle" fill="#000" >42</text>
<line x1="240.95" y1="553.70" x2="240.95" y2="559.30" stroke="#000" stroke-width="1.6" />
<text x="240.95" y="573.80" font-size="11.5" font-weight="bold" text-anchor="middle" fill="#000" >48</text>
<line x1="261.05" y1="553.70" x2="261.05" y2="559.30" stroke="#000" stroke-width="1.6" />
<text x="261.05" y="573.80" font-size="11.5" font-weight="bold" text-anchor="middle" fill="#000" >54</text>
<line x1="281.14" y1="553.70" x2="281.14" y2="559.30" stroke="#000" stroke-width="1.6" />
<text x="281.14" y="573.80" font-size="11.5" font-weight="bold" text-anchor="middle" fill="#000" >60</text>
<line x1="301.23" y1="553.70" x2="301.23" y2="559.30" stroke="#000" stroke-width="1.6" />
<text x="301.23" y="573.80" font-size="11.5" font-weight="bold" text-anchor="middle" fill="#000" >66</text>
<line x1="321.33" y1="553.70" x2="321.33" y2="559.30" stroke="#000" stroke-width="1.6" />
<text x="321.33" y="573.80" font-size="11.5" font-weight="bold" text-anchor="middle" fill="#000" >72</text>
<path d="M224.21 553.50 L227.31 560.90 L226.01 561.50 L226.01 563.50 L222.41 563.50 L222.41 561.50 L221.11 560.90 Z" fill="#1414ff"/>
<text x="200.76" y="593.30" font-size="13.3" font-weight="bold" text-anchor="middle" fill="#000" >time (h)</text>
<text transform="translate(29.20,473.00) rotate(-90)" font-size="13.3" font-weight="bold" text-anchor="middle">Necrosis (RFU)</text>
<text x="181.50" y="341.20" font-size="13.3" font-weight="bold" text-anchor="middle" fill="#000" >Necrosis Ctrl</text>
<line x1="260.80" y1="387.30" x2="277.80" y2="387.30" stroke="#111" stroke-width="1.1" />
<circle cx="269.30" cy="387.30" r="1.8" fill="#111"/>
<text x="288.00" y="390.30" font-size="8.3" font-weight="normal" text-anchor="start" fill="#222" >Nx</text>
<path d="M260.80 395.90 H277.80" stroke="#111" stroke-width="1.4" stroke-dasharray="1.4 3" fill="none"/>
<circle cx="269.30" cy="395.90" r="1.8" fill="#111"/>
<text x="288.00" y="398.90" font-size="8.3" font-weight="normal" text-anchor="start" fill="#222" >NxDG</text>
<line x1="260.80" y1="404.50" x2="277.80" y2="404.50" stroke="#f43a2a" stroke-width="1.1" />
<circle cx="269.30" cy="404.50" r="1.8" fill="#ff2222"/>
<text x="288.00" y="407.50" font-size="8.3" font-weight="normal" text-anchor="start" fill="#222" >Hx</text>
<path d="M260.80 413.10 H277.80" stroke="#f07830" stroke-width="1.4" stroke-dasharray="1.4 3" fill="none"/>
<circle cx="269.30" cy="413.10" r="1.8" fill="#ff2222"/>
<text x="288.00" y="416.10" font-size="8.3" font-weight="normal" text-anchor="start" fill="#222" >OGD</text>
<line x1="260.80" y1="421.70" x2="277.80" y2="421.70" stroke="#4ee63a" stroke-width="1.1" />
<circle cx="269.30" cy="421.70" r="1.8" fill="#3cf01a"/>
<text x="288.00" y="424.70" font-size="8.3" font-weight="normal" text-anchor="start" fill="#222" >Ax</text>
<path d="M260.80 430.30 H277.80" stroke="#4ee63a" stroke-width="1.4" stroke-dasharray="1.4 3" fill="none"/>
<circle cx="269.30" cy="430.30" r="1.8" fill="#3cf01a"/>
<text x="288.00" y="433.30" font-size="8.3" font-weight="normal" text-anchor="start" fill="#222" >AxGD</text>
<text transform="translate(0.30,328.50) scale(0.86,1)" font-size="20" font-weight="bold">C</text>
<rect x="435.00" y="378.10" width="57.00" height="175.40" fill="#f6e3e4" />
<rect x="492.00" y="378.70" width="10.00" height="174.80" fill="#e3ead2" />
<rect x="502.00" y="379.10" width="176.00" height="174.40" fill="#f7f7f7" />
<path d="M435.90 378.10 V369.50 H501.96 V378.10" fill="none" stroke="#333" stroke-width="1"/>
<text x="472.10" y="366.20" font-size="9" font-weight="bold" text-anchor="middle" fill="#222" letter-spacing="0.6">Hx</text>
<text x="497.73" y="384.90" font-size="9.2" font-weight="bold" text-anchor="middle" fill="#222" >Ax</text>
<text x="564.90" y="384.90" font-size="9.2" font-weight="bold" text-anchor="middle" fill="#222" >Reox</text>
<path d="M435.40 542.80 L492.40 533.81 L502.46 532.85 L505.81 532.10 L509.17 531.57 L512.52 531.03 L515.87 530.50 L519.23 529.96 L572.87 521.93 L579.58 521.72 L596.34 522.26 L656.70 519.26 L676.82 521.51" fill="none" stroke="#4ee63a" stroke-width="1.5" stroke-dasharray="1.6 3.2"/>
<circle cx="435.40" cy="542.80" r="1.9" fill="#3cf01a"/>
<circle cx="492.40" cy="533.81" r="1.9" fill="#3cf01a"/>
<circle cx="502.46" cy="532.85" r="1.9" fill="#3cf01a"/>
<circle cx="505.81" cy="532.10" r="1.9" fill="#3cf01a"/>
<circle cx="509.17" cy="531.57" r="1.9" fill="#3cf01a"/>
<circle cx="512.52" cy="531.03" r="1.9" fill="#3cf01a"/>
<circle cx="515.87" cy="530.50" r="1.9" fill="#3cf01a"/>
<circle cx="519.23" cy="529.96" r="1.9" fill="#3cf01a"/>
<circle cx="572.87" cy="521.93" r="1.9" fill="#3cf01a"/>
<circle cx="579.58" cy="521.72" r="1.9" fill="#3cf01a"/>
<circle cx="596.34" cy="522.26" r="1.9" fill="#3cf01a"/>
<circle cx="656.70" cy="519.26" r="1.9" fill="#3cf01a"/>
<circle cx="676.82" cy="521.51" r="1.9" fill="#3cf01a"/>
<path d="M435.40 548.58 L492.40 540.12 L502.46 540.02 L505.81 538.52 L509.17 537.45 L512.52 536.38 L515.87 535.31 L519.23 534.24 L572.87 509.63 L579.58 507.49 L596.34 495.83 L656.70 451.74 L676.82 447.25" fill="none" stroke="#4ee63a" stroke-width="1.1"/>
<circle cx="435.40" cy="548.58" r="1.9" fill="#3cf01a"/>
<circle cx="492.40" cy="540.12" r="1.9" fill="#3cf01a"/>
<circle cx="502.46" cy="540.02" r="1.9" fill="#3cf01a"/>
<circle cx="505.81" cy="538.52" r="1.9" fill="#3cf01a"/>
<circle cx="509.17" cy="537.45" r="1.9" fill="#3cf01a"/>
<circle cx="512.52" cy="536.38" r="1.9" fill="#3cf01a"/>
<circle cx="515.87" cy="535.31" r="1.9" fill="#3cf01a"/>
<circle cx="519.23" cy="534.24" r="1.9" fill="#3cf01a"/>
<circle cx="572.87" cy="509.63" r="1.9" fill="#3cf01a"/>
<circle cx="579.58" cy="507.49" r="1.9" fill="#3cf01a"/>
<circle cx="596.34" cy="495.83" r="1.9" fill="#3cf01a"/>
<circle cx="656.70" cy="451.74" r="1.9" fill="#3cf01a"/>
<circle cx="676.82" cy="447.25" r="1.9" fill="#3cf01a"/>
<path d="M435.40 542.80 L502.46 537.45 L505.81 537.45 L509.17 537.45 L512.52 537.45 L515.87 537.45 L519.23 537.45 L572.87 523.33 L579.58 523.54 L596.34 523.65 L656.70 520.22 L676.82 520.97" fill="none" stroke="#f07830" stroke-width="1.5" stroke-dasharray="1.6 3.2"/>
<circle cx="435.40" cy="542.80" r="1.9" fill="#ff2222"/>
<circle cx="502.46" cy="537.45" r="1.9" fill="#ff2222"/>
<circle cx="505.81" cy="537.45" r="1.9" fill="#ff2222"/>
<circle cx="509.17" cy="537.45" r="1.9" fill="#ff2222"/>
<circle cx="512.52" cy="537.45" r="1.9" fill="#ff2222"/>
<circle cx="515.87" cy="537.45" r="1.9" fill="#ff2222"/>
<circle cx="519.23" cy="537.45" r="1.9" fill="#ff2222"/>
<circle cx="572.87" cy="523.33" r="1.9" fill="#ff2222"/>
<circle cx="579.58" cy="523.54" r="1.9" fill="#ff2222"/>
<circle cx="596.34" cy="523.65" r="1.9" fill="#ff2222"/>
<circle cx="656.70" cy="520.22" r="1.9" fill="#ff2222"/>
<circle cx="676.82" cy="520.97" r="1.9" fill="#ff2222"/>
<path d="M435.40 548.15 L502.46 538.52 L505.81 538.31 L509.17 538.09 L512.52 537.88 L515.87 537.66 L519.23 537.45 L572.87 512.52 L579.58 509.95 L596.34 504.49 L656.70 478.92 L676.82 474.21" fill="none" stroke="#f43a2a" stroke-width="1.1"/>
<circle cx="435.40" cy="548.15" r="1.9" fill="#ff2222"/>
<circle cx="502.46" cy="538.52" r="1.9" fill="#ff2222"/>
<circle cx="505.81" cy="538.31" r="1.9" fill="#ff2222"/>
<circle cx="509.17" cy="538.09" r="1.9" fill="#ff2222"/>
<circle cx="512.52" cy="537.88" r="1.9" fill="#ff2222"/>
<circle cx="515.87" cy="537.66" r="1.9" fill="#ff2222"/>
<circle cx="519.23" cy="537.45" r="1.9" fill="#ff2222"/>
<circle cx="572.87" cy="512.52" r="1.9" fill="#ff2222"/>
<circle cx="579.58" cy="509.95" r="1.9" fill="#ff2222"/>
<circle cx="596.34" cy="504.49" r="1.9" fill="#ff2222"/>
<circle cx="656.70" cy="478.92" r="1.9" fill="#ff2222"/>
<circle cx="676.82" cy="474.21" r="1.9" fill="#ff2222"/>
<path d="M435.40 541.62 L492.40 535.85 L502.46 535.10 L505.81 534.88 L509.17 534.67 L512.52 534.45 L515.87 534.24 L519.23 534.13 L572.87 520.60 L579.58 522.15 L596.34 522.47 L656.70 518.62 L676.82 521.72" fill="none" stroke="#111" stroke-width="1.5" stroke-dasharray="1.6 3.2"/>
<circle cx="435.40" cy="541.62" r="1.9" fill="#111"/>
<circle cx="492.40" cy="535.85" r="1.9" fill="#111"/>
<circle cx="502.46" cy="535.10" r="1.9" fill="#111"/>
<circle cx="505.81" cy="534.88" r="1.9" fill="#111"/>
<circle cx="509.17" cy="534.67" r="1.9" fill="#111"/>
<circle cx="512.52" cy="534.45" r="1.9" fill="#111"/>
<circle cx="515.87" cy="534.24" r="1.9" fill="#111"/>
<circle cx="519.23" cy="534.13" r="1.9" fill="#111"/>
<circle cx="572.87" cy="520.60" r="1.9" fill="#111"/>
<circle cx="579.58" cy="522.15" r="1.9" fill="#111"/>
<circle cx="596.34" cy="522.47" r="1.9" fill="#111"/>
<circle cx="656.70" cy="518.62" r="1.9" fill="#111"/>
<circle cx="676.82" cy="521.72" r="1.9" fill="#111"/>
<path d="M435.40 548.26 L492.40 540.02 L502.46 538.73 L505.81 537.99 L509.17 537.45 L512.52 536.91 L515.87 536.17 L519.23 535.31 L572.87 506.42 L579.58 504.81 L596.34 492.72 L656.70 443.08 L676.82 442.33" fill="none" stroke="#111" stroke-width="1.1"/>
<circle cx="435.40" cy="548.26" r="1.9" fill="#111"/>
<circle cx="492.40" cy="540.02" r="1.9" fill="#111"/>
<circle cx="502.46" cy="538.73" r="1.9" fill="#111"/>
<circle cx="505.81" cy="537.99" r="1.9" fill="#111"/>
<circle cx="509.17" cy="537.45" r="1.9" fill="#111"/>
<circle cx="512.52" cy="536.91" r="1.9" fill="#111"/>
<circle cx="515.87" cy="536.17" r="1.9" fill="#111"/>
<circle cx="519.23" cy="535.31" r="1.9" fill="#111"/>
<circle cx="572.87" cy="506.42" r="1.9" fill="#111"/>
<circle cx="579.58" cy="504.81" r="1.9" fill="#111"/>
<circle cx="596.34" cy="492.72" r="1.9" fill="#111"/>
<circle cx="656.70" cy="443.08" r="1.9" fill="#111"/>
<circle cx="676.82" cy="442.33" r="1.9" fill="#111"/>
<line x1="435.40" y1="393.00" x2="435.40" y2="554.40" stroke="#000" stroke-width="1.8" />
<line x1="434.50" y1="553.50" x2="677.72" y2="553.50" stroke="#000" stroke-width="1.8" />
<line x1="428.90" y1="553.50" x2="435.40" y2="553.50" stroke="#000" stroke-width="1.6" />
<text x="426.20" y="557.70" font-size="11.8" font-weight="bold" text-anchor="end" fill="#000" >0</text>
<line x1="428.90" y1="521.40" x2="435.40" y2="521.40" stroke="#000" stroke-width="1.6" />
<text x="426.20" y="525.60" font-size="11.8" font-weight="bold" text-anchor="end" fill="#000" >3000</text>
<line x1="428.90" y1="489.30" x2="435.40" y2="489.30" stroke="#000" stroke-width="1.6" />
<text x="426.20" y="493.50" font-size="11.8" font-weight="bold" text-anchor="end" fill="#000" >6000</text>
<line x1="428.90" y1="457.20" x2="435.40" y2="457.20" stroke="#000" stroke-width="1.6" />
<text x="426.20" y="461.40" font-size="11.8" font-weight="bold" text-anchor="end" fill="#000" >9000</text>
<line x1="428.90" y1="425.10" x2="435.40" y2="425.10" stroke="#000" stroke-width="1.6" />
<text x="426.20" y="429.30" font-size="11.8" font-weight="bold" text-anchor="end" fill="#000" >12000</text>
<line x1="428.90" y1="393.00" x2="435.40" y2="393.00" stroke="#000" stroke-width="1.6" />
<text x="426.20" y="397.20" font-size="11.8" font-weight="bold" text-anchor="end" fill="#000" >15000</text>
<line x1="435.40" y1="553.50" x2="435.40" y2="559.10" stroke="#000" stroke-width="1.6" />
<text x="435.40" y="573.60" font-size="11.5" font-weight="bold" text-anchor="middle" fill="#000" >0</text>
<line x1="455.52" y1="553.50" x2="455.52" y2="559.10" stroke="#000" stroke-width="1.6" />
<text x="455.52" y="573.60" font-size="11.5" font-weight="bold" text-anchor="middle" fill="#000" >6</text>
<line x1="475.64" y1="553.50" x2="475.64" y2="559.10" stroke="#000" stroke-width="1.6" />
<text x="475.64" y="573.60" font-size="11.5" font-weight="bold" text-anchor="middle" fill="#000" >12</text>
<line x1="495.75" y1="553.50" x2="495.75" y2="559.10" stroke="#000" stroke-width="1.6" />
<text x="495.75" y="573.60" font-size="11.5" font-weight="bold" text-anchor="middle" fill="#000" >18</text>
<line x1="515.87" y1="553.50" x2="515.87" y2="559.10" stroke="#000" stroke-width="1.6" />
<text x="515.87" y="573.60" font-size="11.5" font-weight="bold" text-anchor="middle" fill="#000" >24</text>
<line x1="535.99" y1="553.50" x2="535.99" y2="559.10" stroke="#000" stroke-width="1.6" />
<text x="535.99" y="573.60" font-size="11.5" font-weight="bold" text-anchor="middle" fill="#000" >30</text>
<line x1="556.11" y1="553.50" x2="556.11" y2="559.10" stroke="#000" stroke-width="1.6" />
<text x="556.11" y="573.60" font-size="11.5" font-weight="bold" text-anchor="middle" fill="#000" >36</text>
<line x1="576.23" y1="553.50" x2="576.23" y2="559.10" stroke="#000" stroke-width="1.6" />
<text x="576.23" y="573.60" font-size="11.5" font-weight="bold" text-anchor="middle" fill="#000" >42</text>
<line x1="596.34" y1="553.50" x2="596.34" y2="559.10" stroke="#000" stroke-width="1.6" />
<text x="596.34" y="573.60" font-size="11.5" font-weight="bold" text-anchor="middle" fill="#000" >48</text>
<line x1="616.46" y1="553.50" x2="616.46" y2="559.10" stroke="#000" stroke-width="1.6" />
<text x="616.46" y="573.60" font-size="11.5" font-weight="bold" text-anchor="middle" fill="#000" >54</text>
<line x1="636.58" y1="553.50" x2="636.58" y2="559.10" stroke="#000" stroke-width="1.6" />
<text x="636.58" y="573.60" font-size="11.5" font-weight="bold" text-anchor="middle" fill="#000" >60</text>
<line x1="656.70" y1="553.50" x2="656.70" y2="559.10" stroke="#000" stroke-width="1.6" />
<text x="656.70" y="573.60" font-size="11.5" font-weight="bold" text-anchor="middle" fill="#000" >66</text>
<line x1="676.82" y1="553.50" x2="676.82" y2="559.10" stroke="#000" stroke-width="1.6" />
<text x="676.82" y="573.60" font-size="11.5" font-weight="bold" text-anchor="middle" fill="#000" >72</text>
<path d="M579.58 553.30 L582.68 560.70 L581.38 561.30 L581.38 563.30 L577.78 563.30 L577.78 561.30 L576.48 560.70 Z" fill="#1414ff"/>
<text x="556.11" y="593.10" font-size="13.3" font-weight="bold" text-anchor="middle" fill="#000" >time (h)</text>
<text transform="translate(384.60,473.00) rotate(-90)" font-size="13.3" font-weight="bold" text-anchor="middle">Necrosis (RFU)</text>
<text x="538.00" y="341.20" font-size="13.3" font-weight="bold" text-anchor="middle" fill="#000" >Necrosis Ami</text>
<line x1="603.50" y1="385.20" x2="620.50" y2="385.20" stroke="#111" stroke-width="1.1" />
<circle cx="612.00" cy="385.20" r="1.8" fill="#111"/>
<text x="630.50" y="388.20" font-size="8.3" font-weight="normal" text-anchor="start" fill="#222" >Nx Ami</text>
<path d="M603.50 393.70 H620.50" stroke="#111" stroke-width="1.4" stroke-dasharray="1.4 3" fill="none"/>
<circle cx="612.00" cy="393.70" r="1.8" fill="#111"/>
<text x="630.50" y="396.70" font-size="8.3" font-weight="normal" text-anchor="start" fill="#222" >NxGD Ami</text>
<line x1="603.50" y1="402.20" x2="620.50" y2="402.20" stroke="#f43a2a" stroke-width="1.1" />
<circle cx="612.00" cy="402.20" r="1.8" fill="#ff2222"/>
<text x="630.50" y="405.20" font-size="8.3" font-weight="normal" text-anchor="start" fill="#222" >Hx Ami</text>
<path d="M603.50 410.70 H620.50" stroke="#f07830" stroke-width="1.4" stroke-dasharray="1.4 3" fill="none"/>
<circle cx="612.00" cy="410.70" r="1.8" fill="#ff2222"/>
<text x="630.50" y="413.70" font-size="8.3" font-weight="normal" text-anchor="start" fill="#222" >OGD Ami</text>
<line x1="603.50" y1="419.20" x2="620.50" y2="419.20" stroke="#4ee63a" stroke-width="1.1" />
<circle cx="612.00" cy="419.20" r="1.8" fill="#3cf01a"/>
<text x="630.50" y="422.20" font-size="8.3" font-weight="normal" text-anchor="start" fill="#222" >Ax Ami</text>
<path d="M603.50 427.70 H620.50" stroke="#4ee63a" stroke-width="1.4" stroke-dasharray="1.4 3" fill="none"/>
<circle cx="612.00" cy="427.70" r="1.8" fill="#3cf01a"/>
<text x="630.50" y="430.70" font-size="8.3" font-weight="normal" text-anchor="start" fill="#222" >AxGD Ami</text>
<text transform="translate(350.20,327.80) scale(1,1)" font-size="18.5" font-weight="bold">D</text>
<line x1="95.10" y1="839.05" x2="95.10" y2="833.82" stroke="#000" stroke-width="1.2" />
<line x1="92.20" y1="833.82" x2="98.00" y2="833.82" stroke="#000" stroke-width="1.3" />
<rect x="90.10" y="840.05" width="10.00" height="44.35" fill="#000" stroke="#000" stroke-width="2"/>
<line x1="113.00" y1="848.58" x2="113.00" y2="847.64" stroke="#000" stroke-width="1.2" />
<line x1="110.10" y1="847.64" x2="115.90" y2="847.64" stroke="#000" stroke-width="1.3" />
<rect x="108.00" y="849.58" width="10.00" height="34.82" fill="#000" stroke="#000" stroke-width="2"/>
<line x1="130.80" y1="842.00" x2="130.80" y2="839.99" stroke="#000" stroke-width="1.2" />
<line x1="127.90" y1="839.99" x2="133.70" y2="839.99" stroke="#000" stroke-width="1.3" />
<rect x="125.80" y="843.00" width="10.00" height="41.40" fill="#000" stroke="#000" stroke-width="2"/>
<line x1="148.20" y1="858.37" x2="148.20" y2="855.42" stroke="#000" stroke-width="1.2" />
<line x1="145.30" y1="855.42" x2="151.10" y2="855.42" stroke="#000" stroke-width="1.3" />
<rect x="143.20" y="859.37" width="10.00" height="25.03" fill="#000" stroke="#000" stroke-width="2"/>
<line x1="177.90" y1="842.00" x2="177.90" y2="840.39" stroke="#000" stroke-width="1.2" />
<line x1="175.00" y1="840.39" x2="180.80" y2="840.39" stroke="#000" stroke-width="1.3" />
<rect x="172.90" y="843.00" width="10.00" height="41.40" fill="#44e41e" stroke="#000" stroke-width="2"/>
<line x1="195.50" y1="850.99" x2="195.50" y2="849.65" stroke="#000" stroke-width="1.2" />
<line x1="192.60" y1="849.65" x2="198.40" y2="849.65" stroke="#000" stroke-width="1.3" />
<rect x="190.50" y="851.99" width="10.00" height="32.41" fill="#44e41e" stroke="#000" stroke-width="2"/>
<line x1="213.00" y1="841.47" x2="213.00" y2="839.72" stroke="#000" stroke-width="1.2" />
<line x1="210.10" y1="839.72" x2="215.90" y2="839.72" stroke="#000" stroke-width="1.3" />
<rect x="208.00" y="842.47" width="10.00" height="41.93" fill="#44e41e" stroke="#000" stroke-width="2"/>
<line x1="230.90" y1="870.85" x2="230.90" y2="868.43" stroke="#000" stroke-width="1.2" />
<line x1="228.00" y1="868.43" x2="233.80" y2="868.43" stroke="#000" stroke-width="1.3" />
<rect x="225.90" y="871.85" width="10.00" height="12.55" fill="#44e41e" stroke="#000" stroke-width="2"/>
<line x1="260.20" y1="801.49" x2="260.20" y2="796.39" stroke="#000" stroke-width="1.2" />
<line x1="257.30" y1="796.39" x2="263.10" y2="796.39" stroke="#000" stroke-width="1.3" />
<rect x="255.20" y="802.49" width="10.00" height="81.91" fill="#fa1e0a" stroke="#000" stroke-width="2"/>
<line x1="277.90" y1="841.20" x2="277.90" y2="838.25" stroke="#000" stroke-width="1.2" />
<line x1="275.00" y1="838.25" x2="280.80" y2="838.25" stroke="#000" stroke-width="1.3" />
<rect x="272.90" y="842.20" width="10.00" height="42.20" fill="#fa1e0a" stroke="#000" stroke-width="2"/>
<line x1="295.60" y1="749.03" x2="295.60" y2="744.87" stroke="#000" stroke-width="1.2" />
<line x1="292.70" y1="744.87" x2="298.50" y2="744.87" stroke="#000" stroke-width="1.3" />
<rect x="290.60" y="750.03" width="10.00" height="134.37" fill="#fa1e0a" stroke="#000" stroke-width="2"/>
<line x1="313.20" y1="858.51" x2="313.20" y2="855.55" stroke="#000" stroke-width="1.2" />
<line x1="310.30" y1="855.55" x2="316.10" y2="855.55" stroke="#000" stroke-width="1.3" />
<rect x="308.20" y="859.51" width="10.00" height="24.89" fill="#fa1e0a" stroke="#000" stroke-width="2"/>
<line x1="83.60" y1="723.40" x2="83.60" y2="885.20" stroke="#000" stroke-width="1.6" />
<line x1="82.80" y1="884.40" x2="325.30" y2="884.40" stroke="#000" stroke-width="1.6" />
<line x1="77.10" y1="884.40" x2="83.60" y2="884.40" stroke="#000" stroke-width="1.4" />
<text x="74.40" y="888.60" font-size="11.7" font-weight="bold" text-anchor="end" fill="#000" >0</text>
<line x1="77.10" y1="857.57" x2="83.60" y2="857.57" stroke="#000" stroke-width="1.4" />
<text x="74.40" y="861.77" font-size="11.7" font-weight="bold" text-anchor="end" fill="#000" >2000</text>
<line x1="77.10" y1="830.73" x2="83.60" y2="830.73" stroke="#000" stroke-width="1.4" />
<text x="74.40" y="834.93" font-size="11.7" font-weight="bold" text-anchor="end" fill="#000" >4000</text>
<line x1="77.10" y1="803.90" x2="83.60" y2="803.90" stroke="#000" stroke-width="1.4" />
<text x="74.40" y="808.10" font-size="11.7" font-weight="bold" text-anchor="end" fill="#000" >6000</text>
<line x1="77.10" y1="777.07" x2="83.60" y2="777.07" stroke="#000" stroke-width="1.4" />
<text x="74.40" y="781.27" font-size="11.7" font-weight="bold" text-anchor="end" fill="#000" >8000</text>
<line x1="77.10" y1="750.23" x2="83.60" y2="750.23" stroke="#000" stroke-width="1.4" />
<text x="74.40" y="754.43" font-size="11.7" font-weight="bold" text-anchor="end" fill="#000" >10000</text>
<line x1="77.10" y1="723.40" x2="83.60" y2="723.40" stroke="#000" stroke-width="1.4" />
<text x="74.40" y="727.60" font-size="11.7" font-weight="bold" text-anchor="end" fill="#000" >12000</text>
<path d="M95.30 760.50 V753.30 H260.00 V760.50" fill="none" stroke="#111" stroke-width="1.45"/>
<text x="177.65" y="747.60" font-size="11" font-weight="bold" text-anchor="middle" fill="#111" letter-spacing="0.6">***</text>
<path d="M95.30 795.20 V787.30 H177.10 V795.20" fill="none" stroke="#111" stroke-width="1.45"/>
<text x="136.20" y="780.80" font-size="10" font-weight="bold" text-anchor="middle" fill="#111" >ns</text>
<path d="M95.40 826.00 V816.60 H112.20 V826.00" fill="none" stroke="#111" stroke-width="1.45"/>
<text x="103.80" y="814.20" font-size="11" font-weight="bold" text-anchor="middle" fill="#111" letter-spacing="0.6">*</text>
<path d="M129.90 831.00 V823.00 H147.70 V831.00" fill="none" stroke="#111" stroke-width="1.45"/>
<text x="138.80" y="820.40" font-size="11" font-weight="bold" text-anchor="middle" fill="#111" letter-spacing="0.6">***</text>
<path d="M177.70 830.60 V822.70 H196.10 V830.60" fill="none" stroke="#111" stroke-width="1.45"/>
<text x="186.90" y="820.20" font-size="11" font-weight="bold" text-anchor="middle" fill="#111" letter-spacing="0.6">*</text>
<path d="M212.80 830.60 V822.70 H228.70 V830.60" fill="none" stroke="#111" stroke-width="1.45"/>
<text x="220.75" y="820.40" font-size="11" font-weight="bold" text-anchor="middle" fill="#111" letter-spacing="0.6">***</text>
<path d="M258.80 786.70 V778.40 H277.30 V786.70" fill="none" stroke="#111" stroke-width="1.45"/>
<text x="268.05" y="776.20" font-size="11" font-weight="bold" text-anchor="middle" fill="#111" letter-spacing="0.6">***</text>
<path d="M262.10 716.00 V707.80 H291.30 V716.00" fill="none" stroke="#111" stroke-width="1.45"/>
<text x="276.70" y="705.50" font-size="11" font-weight="bold" text-anchor="middle" fill="#111" letter-spacing="0.6">***</text>
<path d="M295.00 735.60 V730.50 H323.90 V735.60" fill="none" stroke="#111" stroke-width="1.45"/>
<text x="309.45" y="728.50" font-size="11" font-weight="bold" text-anchor="middle" fill="#111" letter-spacing="0.6">***</text>
<text transform="translate(99.70,895.20) rotate(-75)" font-size="12" font-weight="bold" font-style="italic" text-anchor="end">Ctrl</text>
<text transform="translate(118.20,892.40) rotate(-75)" font-size="12" font-weight="bold" font-style="italic" text-anchor="end">Ami</text>
<text transform="translate(136.00,891.20) rotate(-75)" font-size="12" font-weight="bold" font-style="italic" text-anchor="end">GD</text>
<text transform="translate(153.40,892.40) rotate(-75)" font-size="12" font-weight="bold" font-style="italic" text-anchor="end">GD Ami</text>
<text transform="translate(182.50,895.20) rotate(-75)" font-size="12" font-weight="bold" font-style="italic" text-anchor="end">Ctrl</text>
<text transform="translate(200.70,892.40) rotate(-75)" font-size="12" font-weight="bold" font-style="italic" text-anchor="end">Ami</text>
<text transform="translate(218.20,891.20) rotate(-75)" font-size="12" font-weight="bold" font-style="italic" text-anchor="end">GD</text>
<text transform="translate(236.10,892.40) rotate(-75)" font-size="12" font-weight="bold" font-style="italic" text-anchor="end">GD Ami</text>
<text transform="translate(264.80,895.20) rotate(-75)" font-size="12" font-weight="bold" font-style="italic" text-anchor="end">Ctrl</text>
<text transform="translate(283.10,892.40) rotate(-75)" font-size="12" font-weight="bold" font-style="italic" text-anchor="end">Ami</text>
<text transform="translate(300.80,891.20) rotate(-75)" font-size="12" font-weight="bold" font-style="italic" text-anchor="end">GD</text>
<text transform="translate(318.40,892.40) rotate(-75)" font-size="12" font-weight="bold" font-style="italic" text-anchor="end">GD Ami</text>
<line x1="85.80" y1="961.20" x2="154.30" y2="961.20" stroke="#000" stroke-width="2.5" />
<text x="122.90" y="977.40" font-size="13.2" font-weight="normal" text-anchor="middle" fill="#111" >Nx (21h)</text>
<line x1="170.20" y1="961.20" x2="238.40" y2="961.20" stroke="#000" stroke-width="2.5" />
<text x="204.20" y="977.40" font-size="13.2" font-weight="normal" text-anchor="middle" fill="#111" >Ax (3h)</text>
<line x1="252.60" y1="961.20" x2="321.20" y2="961.20" stroke="#000" stroke-width="2.5" />
<text x="287.30" y="977.40" font-size="13.2" font-weight="normal" text-anchor="middle" fill="#111" >Hx (20h)</text>
<text transform="translate(32.00,803.60) rotate(-90)" font-size="13.3" font-weight="bold" text-anchor="middle">Apoptosis (RLU)</text>
<text x="188.00" y="682.40" font-size="15.3" font-weight="bold" text-anchor="middle" fill="#000" >Apoptosis (1h Reox)</text>
<text transform="translate(0.60,665.60) scale(0.85,1)" font-size="19.2" font-weight="bold">E</text>
<line x1="448.90" y1="866.77" x2="448.90" y2="863.82" stroke="#000" stroke-width="1.2" />
<line x1="446.00" y1="863.82" x2="451.80" y2="863.82" stroke="#000" stroke-width="1.3" />
<rect x="443.90" y="867.77" width="10.00" height="57.23" fill="#000" stroke="#000" stroke-width="2"/>
<line x1="466.30" y1="803.18" x2="466.30" y2="791.37" stroke="#000" stroke-width="1.2" />
<line x1="463.40" y1="791.37" x2="469.20" y2="791.37" stroke="#000" stroke-width="1.3" />
<rect x="461.30" y="804.18" width="10.00" height="120.82" fill="#000" stroke="#000" stroke-width="2"/>
<line x1="484.00" y1="854.43" x2="484.00" y2="849.87" stroke="#000" stroke-width="1.2" />
<line x1="481.10" y1="849.87" x2="486.90" y2="849.87" stroke="#000" stroke-width="1.3" />
<rect x="479.00" y="855.43" width="10.00" height="69.57" fill="#000" stroke="#000" stroke-width="2"/>
<line x1="501.70" y1="847.18" x2="501.70" y2="844.77" stroke="#000" stroke-width="1.2" />
<line x1="498.80" y1="844.77" x2="504.60" y2="844.77" stroke="#000" stroke-width="1.3" />
<rect x="496.70" y="848.18" width="10.00" height="76.82" fill="#000" stroke="#000" stroke-width="2"/>
<line x1="531.00" y1="864.89" x2="531.00" y2="861.14" stroke="#000" stroke-width="1.2" />
<line x1="528.10" y1="861.14" x2="533.90" y2="861.14" stroke="#000" stroke-width="1.3" />
<rect x="526.00" y="865.89" width="10.00" height="59.11" fill="#44e41e" stroke="#000" stroke-width="2"/>
<line x1="549.00" y1="804.79" x2="549.00" y2="803.18" stroke="#000" stroke-width="1.2" />
<line x1="546.10" y1="803.18" x2="551.90" y2="803.18" stroke="#000" stroke-width="1.3" />
<rect x="544.00" y="805.79" width="10.00" height="119.21" fill="#44e41e" stroke="#000" stroke-width="2"/>
<line x1="566.50" y1="858.45" x2="566.50" y2="854.97" stroke="#000" stroke-width="1.2" />
<line x1="563.60" y1="854.97" x2="569.40" y2="854.97" stroke="#000" stroke-width="1.3" />
<rect x="561.50" y="859.45" width="10.00" height="65.55" fill="#44e41e" stroke="#000" stroke-width="2"/>
<line x1="584.00" y1="844.77" x2="584.00" y2="843.16" stroke="#000" stroke-width="1.2" />
<line x1="581.10" y1="843.16" x2="586.90" y2="843.16" stroke="#000" stroke-width="1.3" />
<rect x="579.00" y="845.77" width="10.00" height="79.23" fill="#44e41e" stroke="#000" stroke-width="2"/>
<line x1="613.50" y1="865.43" x2="613.50" y2="861.94" stroke="#000" stroke-width="1.2" />
<line x1="610.60" y1="861.94" x2="616.40" y2="861.94" stroke="#000" stroke-width="1.3" />
<rect x="608.50" y="866.43" width="10.00" height="58.57" fill="#fa1e0a" stroke="#000" stroke-width="2"/>
<line x1="631.20" y1="816.06" x2="631.20" y2="808.54" stroke="#000" stroke-width="1.2" />
<line x1="628.30" y1="808.54" x2="634.10" y2="808.54" stroke="#000" stroke-width="1.3" />
<rect x="626.20" y="817.06" width="10.00" height="107.94" fill="#fa1e0a" stroke="#000" stroke-width="2"/>
<line x1="648.80" y1="861.94" x2="648.80" y2="861.14" stroke="#000" stroke-width="1.2" />
<line x1="645.90" y1="861.14" x2="651.70" y2="861.14" stroke="#000" stroke-width="1.3" />
<rect x="643.80" y="862.94" width="10.00" height="62.06" fill="#fa1e0a" stroke="#000" stroke-width="2"/>
<line x1="666.20" y1="850.94" x2="666.20" y2="847.18" stroke="#000" stroke-width="1.2" />
<line x1="663.30" y1="847.18" x2="669.10" y2="847.18" stroke="#000" stroke-width="1.3" />
<rect x="661.20" y="851.94" width="10.00" height="73.06" fill="#fa1e0a" stroke="#000" stroke-width="2"/>
<line x1="437.40" y1="764.00" x2="437.40" y2="925.80" stroke="#000" stroke-width="1.6" />
<line x1="436.60" y1="925.00" x2="679.10" y2="925.00" stroke="#000" stroke-width="1.6" />
<line x1="430.90" y1="925.00" x2="437.40" y2="925.00" stroke="#000" stroke-width="1.4" />
<text x="428.20" y="929.20" font-size="12.2" font-weight="bold" text-anchor="end" fill="#000" >0</text>
<line x1="430.90" y1="871.33" x2="437.40" y2="871.33" stroke="#000" stroke-width="1.4" />
<text x="428.20" y="875.53" font-size="12.2" font-weight="bold" text-anchor="end" fill="#000" >2000</text>
<line x1="430.90" y1="817.67" x2="437.40" y2="817.67" stroke="#000" stroke-width="1.4" />
<text x="428.20" y="821.87" font-size="12.2" font-weight="bold" text-anchor="end" fill="#000" >4000</text>
<line x1="430.90" y1="764.00" x2="437.40" y2="764.00" stroke="#000" stroke-width="1.4" />
<text x="428.20" y="768.20" font-size="12.2" font-weight="bold" text-anchor="end" fill="#000" >6000</text>
<path d="M445.20 723.20 V719.60 H483.00 V723.20" fill="none" stroke="#111" stroke-width="1.45"/>
<text x="464.10" y="712.80" font-size="10" font-weight="bold" text-anchor="middle" fill="#111" >ns</text>
<path d="M445.20 844.40 V739.50 H464.30 V747.40" fill="none" stroke="#111" stroke-width="1.45"/>
<text x="454.75" y="737.20" font-size="11" font-weight="bold" text-anchor="middle" fill="#111" letter-spacing="0.6">***</text>
<path d="M466.60 770.40 V763.20 H484.20 V767.20" fill="none" stroke="#111" stroke-width="1.45"/>
<text x="475.40" y="760.50" font-size="11" font-weight="bold" text-anchor="middle" fill="#111" letter-spacing="0.6">***</text>
<path d="M467.30 788.40 V781.20 H502.00 V797.00" fill="none" stroke="#111" stroke-width="1.45"/>
<text x="484.65" y="779.00" font-size="11" font-weight="bold" text-anchor="middle" fill="#111" letter-spacing="0.6">***</text>
<path d="M483.00 837.60 V829.70 H502.00 V837.60" fill="none" stroke="#111" stroke-width="1.45"/>
<text x="492.50" y="823.60" font-size="10" font-weight="bold" text-anchor="middle" fill="#111" >ns</text>
<path d="M531.50 741.30 V717.40 H563.00 V725.50" fill="none" stroke="#111" stroke-width="1.45"/>
<text x="547.25" y="710.80" font-size="10" font-weight="bold" text-anchor="middle" fill="#111" >ns</text>
<path d="M548.80 747.40 V739.50 H584.30 V747.40" fill="none" stroke="#111" stroke-width="1.45"/>
<text x="566.55" y="736.60" font-size="11" font-weight="bold" text-anchor="middle" fill="#111" letter-spacing="0.6">***</text>
<path d="M547.70 770.40 V762.50 H563.00 V805.60" fill="none" stroke="#111" stroke-width="1.45"/>
<text x="555.35" y="759.40" font-size="11" font-weight="bold" text-anchor="middle" fill="#111" letter-spacing="0.6">***</text>
<path d="M530.80 846.60 V783.90 H549.30 V795.20" fill="none" stroke="#111" stroke-width="1.45"/>
<text x="540.05" y="781.50" font-size="11" font-weight="bold" text-anchor="middle" fill="#111" letter-spacing="0.6">***</text>
<path d="M565.10 837.60 V830.20 H583.40 V837.60" fill="none" stroke="#111" stroke-width="1.45"/>
<text x="574.25" y="824.10" font-size="10" font-weight="bold" text-anchor="middle" fill="#111" >ns</text>
<path d="M611.70 724.10 V707.70 H648.50 V724.10" fill="none" stroke="#111" stroke-width="1.45"/>
<text x="630.10" y="701.30" font-size="10" font-weight="bold" text-anchor="middle" fill="#111" >ns</text>
<path d="M629.30 749.90 V738.10 H665.60 V794.00" fill="none" stroke="#111" stroke-width="1.45"/>
<text x="647.45" y="735.70" font-size="11" font-weight="bold" text-anchor="middle" fill="#111" letter-spacing="0.6">***</text>
<path d="M629.30 777.60 V765.30 H651.40 V805.10" fill="none" stroke="#111" stroke-width="1.45"/>
<text x="640.35" y="763.20" font-size="11" font-weight="bold" text-anchor="middle" fill="#111" letter-spacing="0.6">***</text>
<path d="M610.90 849.20 V792.30 H633.00 V798.20" fill="none" stroke="#111" stroke-width="1.45"/>
<text x="621.95" y="790.20" font-size="11" font-weight="bold" text-anchor="middle" fill="#111" letter-spacing="0.6">***</text>
<path d="M648.50 843.00 V833.80 H664.90 V841.80" fill="none" stroke="#111" stroke-width="1.45"/>
<text x="656.70" y="827.10" font-size="10" font-weight="bold" text-anchor="middle" fill="#111" >ns</text>
<text transform="translate(453.50,933.50) rotate(-75)" font-size="12" font-weight="bold" font-style="italic" text-anchor="end">Ctrl</text>
<text transform="translate(471.20,933.90) rotate(-75)" font-size="12" font-weight="bold" font-style="italic" text-anchor="end">Ami</text>
<text transform="translate(489.80,933.20) rotate(-75)" font-size="12" font-weight="bold" font-style="italic" text-anchor="end">GD</text>
<text transform="translate(506.90,933.50) rotate(-75)" font-size="12" font-weight="bold" font-style="italic" text-anchor="end">GD Ami</text>
<text transform="translate(535.60,933.50) rotate(-75)" font-size="12" font-weight="bold" font-style="italic" text-anchor="end">Ctrl</text>
<text transform="translate(553.90,933.90) rotate(-75)" font-size="12" font-weight="bold" font-style="italic" text-anchor="end">Ami</text>
<text transform="translate(572.30,933.20) rotate(-75)" font-size="12" font-weight="bold" font-style="italic" text-anchor="end">GD</text>
<text transform="translate(589.20,933.50) rotate(-75)" font-size="12" font-weight="bold" font-style="italic" text-anchor="end">GD Ami</text>
<text transform="translate(618.10,933.50) rotate(-75)" font-size="12" font-weight="bold" font-style="italic" text-anchor="end">Ctrl</text>
<text transform="translate(636.10,933.90) rotate(-75)" font-size="12" font-weight="bold" font-style="italic" text-anchor="end">Ami</text>
<text transform="translate(654.60,933.20) rotate(-75)" font-size="12" font-weight="bold" font-style="italic" text-anchor="end">GD</text>
<text transform="translate(671.40,933.50) rotate(-75)" font-size="12" font-weight="bold" font-style="italic" text-anchor="end">GD Ami</text>
<line x1="441.20" y1="998.90" x2="510.00" y2="998.90" stroke="#000" stroke-width="2.5" />
<text x="479.00" y="1014.80" font-size="13.2" font-weight="normal" text-anchor="middle" fill="#111" >Nx (43h)</text>
<line x1="522.30" y1="998.90" x2="590.80" y2="998.90" stroke="#000" stroke-width="2.5" />
<text x="556.50" y="1014.80" font-size="13.2" font-weight="normal" text-anchor="middle" fill="#111" >Ax (3h)</text>
<line x1="605.00" y1="998.90" x2="673.90" y2="998.90" stroke="#000" stroke-width="2.5" />
<text x="640.10" y="1014.80" font-size="13.2" font-weight="normal" text-anchor="middle" fill="#111" >Hx (20h)</text>
<text transform="translate(393.40,843.50) rotate(-90)" font-size="13.3" font-weight="bold" text-anchor="middle">Necrosis (RFU)</text>
<text x="554.20" y="682.40" font-size="15.3" font-weight="bold" text-anchor="middle" fill="#000" >Necrosis (23h Reox)</text>
<text transform="translate(350.20,665.60) scale(0.95,1)" font-size="18.8" font-weight="bold">F</text>
</svg></body></html>
